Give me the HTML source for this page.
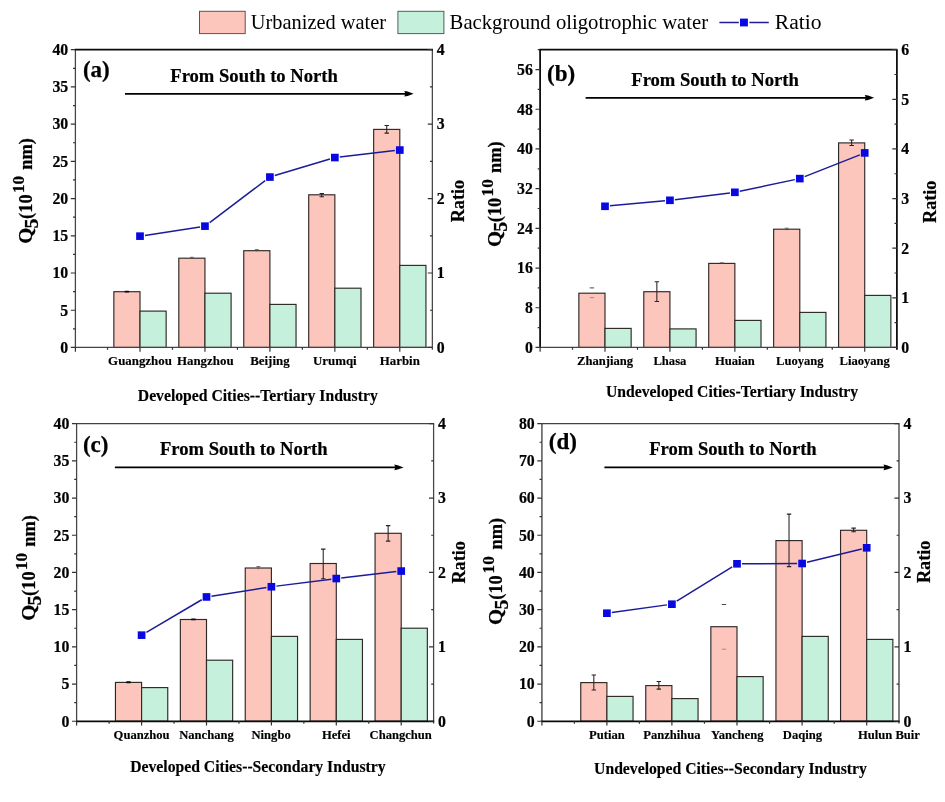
<!DOCTYPE html>
<html><head><meta charset="utf-8"><title>Q5 chart</title>
<style>
html,body{margin:0;padding:0;background:#fff;}
body{width:945px;height:802px;overflow:hidden;font-family:"Liberation Serif",serif;}
svg{display:block;will-change:transform;}
text{font-family:"Liberation Serif",serif;fill:#000;}
.tk{font-size:15.8px;font-weight:bold;stroke:#000;stroke-width:0.2px;}
.cat{font-weight:bold;stroke:#000;stroke-width:0.15px;}
.ttl{font-size:18.6px;font-weight:bold;stroke:#000;stroke-width:0.2px;}
.tag{font-size:23px;font-weight:bold;stroke:#000;stroke-width:0.25px;}
.xt{font-size:15.7px;font-weight:bold;stroke:#000;stroke-width:0.15px;}
.yl{font-size:18.4px;font-weight:bold;stroke:#000;stroke-width:0.25px;}
.ss{font-size:17.6px;}
.rl{font-size:18.2px;font-weight:bold;stroke:#000;stroke-width:0.2px;}
.lg{font-size:20.5px;}
</style></head>
<body>
<svg width="945" height="802" viewBox="0 0 945 802">
<rect width="945" height="802" fill="#fff"/>
<g id="legend">
<rect x="199.5" y="11.3" width="45.7" height="22.3" fill="#fdc6bd" stroke="#66504e" stroke-width="1"/>
<text x="250.8" y="29.3" class="lg" style="font-size:20.4px">Urbanized water</text>
<rect x="397.9" y="11.3" width="46" height="22.3" fill="#c4f0dc" stroke="#4e6258" stroke-width="1"/>
<text x="449.6" y="29.3" class="lg" style="font-size:20.7px">Background oligotrophic water</text>
<path d="M719.4 22.5H738.8M749.4 22.5H768.8" stroke="#1c1c9a" stroke-width="1.35"/>
<rect x="740" y="18.6" width="7.9" height="7.8" fill="#0808e2"/>
<text x="774.8" y="29.3" class="lg" style="font-size:21.6px">Ratio</text>
</g>
<g id="panel-a">
<rect x="113.85" y="291.7" width="26.15" height="55.75" fill="#fdc6bd" stroke="#2e2826" stroke-width="1.15"/>
<rect x="140" y="311.1" width="26.15" height="36.35" fill="#c4f0dc" stroke="#2e2826" stroke-width="1.15"/>
<rect x="178.8" y="258.2" width="26.15" height="89.25" fill="#fdc6bd" stroke="#2e2826" stroke-width="1.15"/>
<rect x="204.95" y="293.2" width="26.15" height="54.25" fill="#c4f0dc" stroke="#2e2826" stroke-width="1.15"/>
<rect x="243.75" y="250.7" width="26.15" height="96.75" fill="#fdc6bd" stroke="#2e2826" stroke-width="1.15"/>
<rect x="269.9" y="304.4" width="26.15" height="43.05" fill="#c4f0dc" stroke="#2e2826" stroke-width="1.15"/>
<rect x="308.7" y="194.8" width="26.15" height="152.65" fill="#fdc6bd" stroke="#2e2826" stroke-width="1.15"/>
<rect x="334.85" y="288.2" width="26.15" height="59.25" fill="#c4f0dc" stroke="#2e2826" stroke-width="1.15"/>
<rect x="373.65" y="129.4" width="26.15" height="218.05" fill="#fdc6bd" stroke="#2e2826" stroke-width="1.15"/>
<rect x="399.8" y="265.4" width="26.15" height="82.05" fill="#c4f0dc" stroke="#2e2826" stroke-width="1.15"/>
<path d="M125.42 291.6H128.43" stroke="#0a0a0a" stroke-width="1.9" stroke-linecap="round"/>
<path d="M191.88 257.3V259M189.88 257.3H193.88" stroke="#5a4a4a" stroke-width="0.8" fill="none"/>
<path d="M256.82 249.6V251.4M254.82 249.6H258.82" stroke="#5a4a4a" stroke-width="0.8" fill="none"/>
<path d="M321.78 193.4V196.8M319.58 193.4H323.98M319.58 196.8H323.98" stroke="#2a2020" stroke-width="1.05" fill="none"/>
<path d="M386.73 125.4V133.1M384.53 125.4H388.93M384.53 133.1H388.93" stroke="#2a2020" stroke-width="1.05" fill="none"/>
<path d="M75.4 49.7V347.45" stroke="#444" stroke-width="1.25"/>
<path d="M432.35 49.7V349.65" stroke="#444" stroke-width="1.25"/>
<path d="M74.8 347.45H432.95" stroke="#444" stroke-width="1.25"/>
<path d="M74.8 49.7H432.95" stroke="#0a0a0a" stroke-width="1.75"/>
<text x="68.2" y="352.75" text-anchor="end" class="tk">0</text>
<text x="68.2" y="315.53" text-anchor="end" class="tk">5</text>
<text x="68.2" y="278.31" text-anchor="end" class="tk">10</text>
<text x="68.2" y="241.09" text-anchor="end" class="tk">15</text>
<text x="68.2" y="203.88" text-anchor="end" class="tk">20</text>
<text x="68.2" y="166.66" text-anchor="end" class="tk">25</text>
<text x="68.2" y="129.44" text-anchor="end" class="tk">30</text>
<text x="68.2" y="92.22" text-anchor="end" class="tk">35</text>
<text x="68.2" y="55" text-anchor="end" class="tk">40</text>
<text x="436.75" y="352.75" class="tk">0</text>
<text x="436.75" y="278.31" class="tk">1</text>
<text x="436.75" y="203.88" class="tk">2</text>
<text x="436.75" y="129.44" class="tk">3</text>
<text x="436.75" y="55" class="tk">4</text>
<path d="M70.8 347.45H75.4M73 328.84H75.4M70.8 310.23H75.4M73 291.62H75.4M70.8 273.01H75.4M73 254.4H75.4M70.8 235.79H75.4M73 217.18H75.4M70.8 198.57H75.4M73 179.97H75.4M70.8 161.36H75.4M73 142.75H75.4M70.8 124.14H75.4M73 105.53H75.4M70.8 86.92H75.4M73 68.31H75.4M70.8 49.7H75.4M427.75 347.45H432.35M429.95 310.23H432.35M427.75 273.01H432.35M429.95 235.79H432.35M427.75 198.57H432.35M429.95 161.36H432.35M427.75 124.14H432.35M429.95 86.92H432.35M427.75 49.7H432.35M75.4 347.45V351.65M140 347.45V351.65M107.53 347.45V349.85M204.95 347.45V351.65M172.47 347.45V349.85M269.9 347.45V351.65M237.42 347.45V349.85M334.85 347.45V351.65M302.38 347.45V349.85M399.8 347.45V351.65M367.32 347.45V349.85" stroke="#333" stroke-width="1.2" fill="none"/>
<text x="140" y="364.95" text-anchor="middle" class="cat" style="font-size:12.9px">Guangzhou</text>
<text x="205.25" y="364.95" text-anchor="middle" class="cat" style="font-size:12.9px">Hangzhou</text>
<text x="269.9" y="364.95" text-anchor="middle" class="cat" style="font-size:12.9px">Beijing</text>
<text x="334.85" y="364.95" text-anchor="middle" class="cat" style="font-size:12.9px">Urumqi</text>
<text x="399.8" y="364.95" text-anchor="middle" class="cat" style="font-size:12.9px">Harbin</text>
<path d="M144.94 235.39L200.01 226.91M209.68 222.58L265.17 180.62M274.8 175.58L329.95 159.02M339.79 156.98L394.86 150.62" fill="none" stroke="#1c1c9a" stroke-width="1.5"/>
<rect x="136.15" y="232.35" width="7.7" height="7.6" fill="#0808e2"/>
<rect x="201.1" y="222.35" width="7.7" height="7.6" fill="#0808e2"/>
<rect x="266.05" y="173.25" width="7.7" height="7.6" fill="#0808e2"/>
<rect x="331" y="153.75" width="7.7" height="7.6" fill="#0808e2"/>
<rect x="395.95" y="146.25" width="7.7" height="7.6" fill="#0808e2"/>
<path d="M125 93.8H407.6" stroke="#000" stroke-width="1.8"/>
<path d="M413.6 93.8L407.6 91.6L404.3 91L405.3 93.8L404.3 96.6L407.6 96Z" fill="#000"/>
<text x="170.3" y="81.7" class="ttl">From South to North</text>
<text x="82.9" y="77.3" class="tag">(a)</text>
<text x="137.8" y="401" class="xt">Developed Cities--Tertiary Industry</text>
<g transform="translate(32.2 243.7) rotate(-90)" class="yl">
<text transform="translate(0 0) scale(1.12 1)" style="font-size:18.4px">Q</text>
<text transform="translate(15.3 5.8) scale(1.12 1)" style="font-size:17.8px">5</text>
<text transform="translate(24.8 0) scale(1.0 1)" style="font-size:18.4px">(10</text>
<text transform="translate(50.6 -8) scale(0.97 1)" style="font-size:17.6px">10</text>
<text transform="translate(74 0) scale(1.0 1)" style="font-size:18.4px">nm)</text>
</g>
<text transform="translate(464.2 222.3) rotate(-90)" class="rl">Ratio</text>
</g>
<g id="panel-b">
<rect x="578.85" y="293.2" width="26.15" height="54.25" fill="#fdc6bd" stroke="#2e2826" stroke-width="1.15"/>
<rect x="605" y="328.4" width="26.15" height="19.05" fill="#c4f0dc" stroke="#2e2826" stroke-width="1.15"/>
<rect x="643.78" y="291.7" width="26.15" height="55.75" fill="#fdc6bd" stroke="#2e2826" stroke-width="1.15"/>
<rect x="669.93" y="328.9" width="26.15" height="18.55" fill="#c4f0dc" stroke="#2e2826" stroke-width="1.15"/>
<rect x="708.71" y="263.4" width="26.15" height="84.05" fill="#fdc6bd" stroke="#2e2826" stroke-width="1.15"/>
<rect x="734.86" y="320.4" width="26.15" height="27.05" fill="#c4f0dc" stroke="#2e2826" stroke-width="1.15"/>
<rect x="773.64" y="229.2" width="26.15" height="118.25" fill="#fdc6bd" stroke="#2e2826" stroke-width="1.15"/>
<rect x="799.79" y="312.4" width="26.15" height="35.05" fill="#c4f0dc" stroke="#2e2826" stroke-width="1.15"/>
<rect x="838.57" y="142.9" width="26.15" height="204.55" fill="#fdc6bd" stroke="#2e2826" stroke-width="1.15"/>
<rect x="864.72" y="295.4" width="26.15" height="52.05" fill="#c4f0dc" stroke="#2e2826" stroke-width="1.15"/>
<path d="M589.72 287.9H594.12" stroke="#333" stroke-width="0.9"/>
<path d="M589.72 297.6H594.12" stroke="#b57a70" stroke-width="0.9"/>
<path d="M656.86 281.7V301.4M654.65 281.7H659.06M654.65 301.4H659.06" stroke="#2a2020" stroke-width="1.05" fill="none"/>
<path d="M721.78 262.8V264M719.78 262.8H723.78" stroke="#5a4a4a" stroke-width="0.8" fill="none"/>
<path d="M786.71 228.2V230.2M784.71 228.2H788.71" stroke="#5a4a4a" stroke-width="0.8" fill="none"/>
<path d="M851.64 139.9V145.4M849.44 139.9H853.85M849.44 145.4H853.85" stroke="#2a2020" stroke-width="1.05" fill="none"/>
<path d="M540.1 49.7V347.45" stroke="#0a0a0a" stroke-width="1.75"/>
<path d="M896.9 49.7V349.65" stroke="#0a0a0a" stroke-width="1.75"/>
<path d="M539.5 347.45H897.5" stroke="#444" stroke-width="1.25"/>
<path d="M539.5 49.7H897.5" stroke="#0a0a0a" stroke-width="1.75"/>
<text x="532.9" y="352.75" text-anchor="end" class="tk">0</text>
<text x="532.9" y="313.05" text-anchor="end" class="tk">8</text>
<text x="532.9" y="273.35" text-anchor="end" class="tk">16</text>
<text x="532.9" y="233.65" text-anchor="end" class="tk">24</text>
<text x="532.9" y="193.95" text-anchor="end" class="tk">32</text>
<text x="532.9" y="154.25" text-anchor="end" class="tk">40</text>
<text x="532.9" y="114.55" text-anchor="end" class="tk">48</text>
<text x="532.9" y="74.85" text-anchor="end" class="tk">56</text>
<text x="901.3" y="352.75" class="tk">0</text>
<text x="901.3" y="303.12" class="tk">1</text>
<text x="901.3" y="253.5" class="tk">2</text>
<text x="901.3" y="203.88" class="tk">3</text>
<text x="901.3" y="154.25" class="tk">4</text>
<text x="901.3" y="104.62" class="tk">5</text>
<text x="901.3" y="55" class="tk">6</text>
<path d="M535.5 347.45H540.1M537.7 327.6H540.1M535.5 307.75H540.1M537.7 287.9H540.1M535.5 268.05H540.1M537.7 248.2H540.1M535.5 228.35H540.1M537.7 208.5H540.1M535.5 188.65H540.1M537.7 168.8H540.1M535.5 148.95H540.1M537.7 129.1H540.1M535.5 109.25H540.1M537.7 89.4H540.1M535.5 69.55H540.1M537.7 49.7H540.1M892.3 347.45H896.9M894.5 322.64H896.9M892.3 297.82H896.9M894.5 273.01H896.9M892.3 248.2H896.9M894.5 223.39H896.9M892.3 198.57H896.9M894.5 173.76H896.9M892.3 148.95H896.9M894.5 124.14H896.9M892.3 99.32H896.9M894.5 74.51H896.9M892.3 49.7H896.9M540.1 347.45V351.65M605 347.45V351.65M572.53 347.45V349.85M669.93 347.45V351.65M637.47 347.45V349.85M734.86 347.45V351.65M702.39 347.45V349.85M799.79 347.45V351.65M767.32 347.45V349.85M864.72 347.45V351.65M832.25 347.45V349.85" stroke="#333" stroke-width="1.2" fill="none"/>
<text x="605" y="364.95" text-anchor="middle" class="cat" style="font-size:12.6px">Zhanjiang</text>
<text x="669.93" y="364.95" text-anchor="middle" class="cat" style="font-size:12.6px">Lhasa</text>
<text x="734.86" y="364.95" text-anchor="middle" class="cat" style="font-size:12.6px">Huaian</text>
<text x="799.79" y="364.95" text-anchor="middle" class="cat" style="font-size:12.6px">Luoyang</text>
<text x="864.72" y="364.95" text-anchor="middle" class="cat" style="font-size:12.6px">Liaoyang</text>
<path d="M609.95 205.84L664.98 200.76M674.87 199.69L729.92 192.91M739.79 191.26L794.86 179.64M804.66 176.67L859.85 154.83" fill="none" stroke="#1c1c9a" stroke-width="1.5"/>
<rect x="601.15" y="202.5" width="7.7" height="7.6" fill="#0808e2"/>
<rect x="666.08" y="196.5" width="7.7" height="7.6" fill="#0808e2"/>
<rect x="731.01" y="188.5" width="7.7" height="7.6" fill="#0808e2"/>
<rect x="795.94" y="174.8" width="7.7" height="7.6" fill="#0808e2"/>
<rect x="860.87" y="149.1" width="7.7" height="7.6" fill="#0808e2"/>
<path d="M585.6 97.8H868.1" stroke="#000" stroke-width="1.8"/>
<path d="M874.1 97.8L868.1 95.6L864.8 95L865.8 97.8L864.8 100.6L868.1 100Z" fill="#000"/>
<text x="631.3" y="85.8" class="ttl">From South to North</text>
<text x="547" y="81" class="tag">(b)</text>
<text x="606" y="396.8" class="xt">Undeveloped Cities-Tertiary Industry</text>
<g transform="translate(501.4 247) rotate(-90)" class="yl">
<text transform="translate(0 0) scale(1.12 1)" style="font-size:18.4px">Q</text>
<text transform="translate(15.3 5.8) scale(1.12 1)" style="font-size:17.8px">5</text>
<text transform="translate(24.8 0) scale(1.0 1)" style="font-size:18.4px">(10</text>
<text transform="translate(50.6 -8) scale(0.97 1)" style="font-size:17.6px">10</text>
<text transform="translate(74 0) scale(1.0 1)" style="font-size:18.4px">nm)</text>
</g>
<text transform="translate(935.8 223) rotate(-90)" class="rl">Ratio</text>
</g>
<g id="panel-c">
<rect x="115.45" y="682.4" width="26.15" height="38.85" fill="#fdc6bd" stroke="#2e2826" stroke-width="1.15"/>
<rect x="141.6" y="687.6" width="26.15" height="33.65" fill="#c4f0dc" stroke="#2e2826" stroke-width="1.15"/>
<rect x="180.35" y="619.5" width="26.15" height="101.75" fill="#fdc6bd" stroke="#2e2826" stroke-width="1.15"/>
<rect x="206.5" y="660.2" width="26.15" height="61.05" fill="#c4f0dc" stroke="#2e2826" stroke-width="1.15"/>
<rect x="245.25" y="568" width="26.15" height="153.25" fill="#fdc6bd" stroke="#2e2826" stroke-width="1.15"/>
<rect x="271.4" y="636.4" width="26.15" height="84.85" fill="#c4f0dc" stroke="#2e2826" stroke-width="1.15"/>
<rect x="310.15" y="563.5" width="26.15" height="157.75" fill="#fdc6bd" stroke="#2e2826" stroke-width="1.15"/>
<rect x="336.3" y="639.4" width="26.15" height="81.85" fill="#c4f0dc" stroke="#2e2826" stroke-width="1.15"/>
<rect x="375.05" y="533.3" width="26.15" height="187.95" fill="#fdc6bd" stroke="#2e2826" stroke-width="1.15"/>
<rect x="401.2" y="628.2" width="26.15" height="93.05" fill="#c4f0dc" stroke="#2e2826" stroke-width="1.15"/>
<path d="M127.03 682.3H130.03" stroke="#0a0a0a" stroke-width="1.9" stroke-linecap="round"/>
<path d="M191.93 619.4H194.93" stroke="#0a0a0a" stroke-width="1.9" stroke-linecap="round"/>
<path d="M258.32 566.6V569.2M256.32 566.6H260.32" stroke="#5a4a4a" stroke-width="0.8" fill="none"/>
<path d="M323.23 549.1V578.8M321.03 549.1H325.43M321.03 578.8H325.43" stroke="#2a2020" stroke-width="1.05" fill="none"/>
<path d="M388.13 525.6V541.1M385.93 525.6H390.33M385.93 541.1H390.33" stroke="#2a2020" stroke-width="1.05" fill="none"/>
<path d="M76.6 423.65V721.25" stroke="#444" stroke-width="1.25"/>
<path d="M433.6 423.65V723.45" stroke="#444" stroke-width="1.25"/>
<path d="M76 721.25H434.2" stroke="#0a0a0a" stroke-width="1.75"/>
<path d="M76 423.65H434.2" stroke="#444" stroke-width="1.25"/>
<text x="69.4" y="726.55" text-anchor="end" class="tk">0</text>
<text x="69.4" y="689.35" text-anchor="end" class="tk">5</text>
<text x="69.4" y="652.15" text-anchor="end" class="tk">10</text>
<text x="69.4" y="614.95" text-anchor="end" class="tk">15</text>
<text x="69.4" y="577.75" text-anchor="end" class="tk">20</text>
<text x="69.4" y="540.55" text-anchor="end" class="tk">25</text>
<text x="69.4" y="503.35" text-anchor="end" class="tk">30</text>
<text x="69.4" y="466.15" text-anchor="end" class="tk">35</text>
<text x="69.4" y="428.95" text-anchor="end" class="tk">40</text>
<text x="438" y="726.55" class="tk">0</text>
<text x="438" y="652.15" class="tk">1</text>
<text x="438" y="577.75" class="tk">2</text>
<text x="438" y="503.35" class="tk">3</text>
<text x="438" y="428.95" class="tk">4</text>
<path d="M72 721.25H76.6M74.2 702.65H76.6M72 684.05H76.6M74.2 665.45H76.6M72 646.85H76.6M74.2 628.25H76.6M72 609.65H76.6M74.2 591.05H76.6M72 572.45H76.6M74.2 553.85H76.6M72 535.25H76.6M74.2 516.65H76.6M72 498.05H76.6M74.2 479.45H76.6M72 460.85H76.6M74.2 442.25H76.6M72 423.65H76.6M429 721.25H433.6M431.2 684.05H433.6M429 646.85H433.6M431.2 609.65H433.6M429 572.45H433.6M431.2 535.25H433.6M429 498.05H433.6M431.2 460.85H433.6M429 423.65H433.6M76.6 721.25V725.45M141.6 721.25V725.45M109.15 721.25V723.65M206.5 721.25V725.45M174.05 721.25V723.65M271.4 721.25V725.45M238.95 721.25V723.65M336.3 721.25V725.45M303.85 721.25V723.65M401.2 721.25V725.45M368.75 721.25V723.65" stroke="#333" stroke-width="1.2" fill="none"/>
<text x="141.6" y="738.75" text-anchor="middle" class="cat" style="font-size:12.6px">Quanzhou</text>
<text x="206.5" y="738.75" text-anchor="middle" class="cat" style="font-size:12.6px">Nanchang</text>
<text x="271.1" y="738.75" text-anchor="middle" class="cat" style="font-size:12.6px">Ningbo</text>
<text x="336.3" y="738.75" text-anchor="middle" class="cat" style="font-size:12.6px">Hefei</text>
<text x="400.7" y="738.75" text-anchor="middle" class="cat" style="font-size:12.6px">Changchun</text>
<path d="M146.4 632.33L201.7 599.77M211.44 596.17L266.46 587.53M276.34 586.13L331.36 579.17M341.24 577.98L396.26 571.62" fill="none" stroke="#1c1c9a" stroke-width="1.5"/>
<rect x="137.75" y="631.35" width="7.7" height="7.6" fill="#0808e2"/>
<rect x="202.65" y="593.15" width="7.7" height="7.6" fill="#0808e2"/>
<rect x="267.55" y="582.95" width="7.7" height="7.6" fill="#0808e2"/>
<rect x="332.45" y="574.75" width="7.7" height="7.6" fill="#0808e2"/>
<rect x="397.35" y="567.25" width="7.7" height="7.6" fill="#0808e2"/>
<path d="M114.9 467.4H397.6" stroke="#000" stroke-width="1.8"/>
<path d="M403.6 467.4L397.6 465.2L394.3 464.6L395.3 467.4L394.3 470.2L397.6 469.6Z" fill="#000"/>
<text x="160" y="455" class="ttl">From South to North</text>
<text x="82.9" y="451.8" class="tag">(c)</text>
<text x="130.2" y="772.4" class="xt">Developed Cities--Secondary Industry</text>
<g transform="translate(35.2 620.7) rotate(-90)" class="yl">
<text transform="translate(0 0) scale(1.12 1)" style="font-size:18.4px">Q</text>
<text transform="translate(15.3 5.8) scale(1.12 1)" style="font-size:17.8px">5</text>
<text transform="translate(24.8 0) scale(1.0 1)" style="font-size:18.4px">(10</text>
<text transform="translate(50.6 -8) scale(0.97 1)" style="font-size:17.6px">10</text>
<text transform="translate(74 0) scale(1.0 1)" style="font-size:18.4px">nm)</text>
</g>
<text transform="translate(464.8 583.6) rotate(-90)" class="rl">Ratio</text>
</g>
<g id="panel-d">
<rect x="580.75" y="682.6" width="26.15" height="38.65" fill="#fdc6bd" stroke="#2e2826" stroke-width="1.15"/>
<rect x="606.9" y="696.4" width="26.15" height="24.85" fill="#c4f0dc" stroke="#2e2826" stroke-width="1.15"/>
<rect x="645.75" y="685.6" width="26.15" height="35.65" fill="#fdc6bd" stroke="#2e2826" stroke-width="1.15"/>
<rect x="671.9" y="698.6" width="26.15" height="22.65" fill="#c4f0dc" stroke="#2e2826" stroke-width="1.15"/>
<rect x="710.85" y="626.7" width="26.15" height="94.55" fill="#fdc6bd" stroke="#2e2826" stroke-width="1.15"/>
<rect x="737" y="676.6" width="26.15" height="44.65" fill="#c4f0dc" stroke="#2e2826" stroke-width="1.15"/>
<rect x="775.95" y="540.6" width="26.15" height="180.65" fill="#fdc6bd" stroke="#2e2826" stroke-width="1.15"/>
<rect x="802.1" y="636.4" width="26.15" height="84.85" fill="#c4f0dc" stroke="#2e2826" stroke-width="1.15"/>
<rect x="840.55" y="530.3" width="26.15" height="190.95" fill="#fdc6bd" stroke="#2e2826" stroke-width="1.15"/>
<rect x="866.7" y="639.4" width="26.15" height="81.85" fill="#c4f0dc" stroke="#2e2826" stroke-width="1.15"/>
<path d="M593.82 674.9V689.9M591.62 674.9H596.02M591.62 689.9H596.02" stroke="#2a2020" stroke-width="1.05" fill="none"/>
<path d="M658.82 681.4V689.1M656.62 681.4H661.02M656.62 689.1H661.02" stroke="#2a2020" stroke-width="1.05" fill="none"/>
<path d="M721.72 604.5H726.12" stroke="#333" stroke-width="0.9"/>
<path d="M721.72 649.2H726.12" stroke="#b57a70" stroke-width="0.9"/>
<path d="M789.02 514.1V566.6M786.82 514.1H791.23M786.82 566.6H791.23" stroke="#2a2020" stroke-width="1.05" fill="none"/>
<path d="M853.62 528.1V531.8M851.42 528.1H855.83M851.42 531.8H855.83" stroke="#2a2020" stroke-width="1.05" fill="none"/>
<path d="M541.9 423.65V721.25" stroke="#5a5a5a" stroke-width="1.55"/>
<path d="M899 423.65V723.45" stroke="#5a5a5a" stroke-width="1.55"/>
<path d="M541.3 721.25H899.6" stroke="#0a0a0a" stroke-width="1.75"/>
<path d="M541.3 423.65H899.6" stroke="#444" stroke-width="1.25"/>
<text x="534.7" y="726.55" text-anchor="end" class="tk">0</text>
<text x="534.7" y="689.35" text-anchor="end" class="tk">10</text>
<text x="534.7" y="652.15" text-anchor="end" class="tk">20</text>
<text x="534.7" y="614.95" text-anchor="end" class="tk">30</text>
<text x="534.7" y="577.75" text-anchor="end" class="tk">40</text>
<text x="534.7" y="540.55" text-anchor="end" class="tk">50</text>
<text x="534.7" y="503.35" text-anchor="end" class="tk">60</text>
<text x="534.7" y="466.15" text-anchor="end" class="tk">70</text>
<text x="534.7" y="428.95" text-anchor="end" class="tk">80</text>
<text x="903.4" y="726.55" class="tk">0</text>
<text x="903.4" y="652.15" class="tk">1</text>
<text x="903.4" y="577.75" class="tk">2</text>
<text x="903.4" y="503.35" class="tk">3</text>
<text x="903.4" y="428.95" class="tk">4</text>
<path d="M537.3 721.25H541.9M539.5 702.65H541.9M537.3 684.05H541.9M539.5 665.45H541.9M537.3 646.85H541.9M539.5 628.25H541.9M537.3 609.65H541.9M539.5 591.05H541.9M537.3 572.45H541.9M539.5 553.85H541.9M537.3 535.25H541.9M539.5 516.65H541.9M537.3 498.05H541.9M539.5 479.45H541.9M537.3 460.85H541.9M539.5 442.25H541.9M537.3 423.65H541.9M894.4 721.25H899M896.6 684.05H899M894.4 646.85H899M896.6 609.65H899M894.4 572.45H899M896.6 535.25H899M894.4 498.05H899M896.6 460.85H899M894.4 423.65H899M541.9 721.25V725.45M606.9 721.25V725.45M574.38 721.25V723.65M671.9 721.25V725.45M639.38 721.25V723.65M737 721.25V725.45M704.48 721.25V723.65M802.1 721.25V725.45M769.58 721.25V723.65M866.7 721.25V725.45M834.18 721.25V723.65" stroke="#333" stroke-width="1.2" fill="none"/>
<text x="606.9" y="738.75" text-anchor="middle" class="cat" style="font-size:12.6px">Putian</text>
<text x="671.9" y="738.75" text-anchor="middle" class="cat" style="font-size:12.6px">Panzhihua</text>
<text x="737.2" y="738.75" text-anchor="middle" class="cat" style="font-size:12.6px">Yancheng</text>
<text x="802.4" y="738.75" text-anchor="middle" class="cat" style="font-size:12.6px">Daqing</text>
<text x="888.9" y="738.75" text-anchor="middle" class="cat" style="font-size:12.6px">Hulun Buir</text>
<path d="M611.84 612.52L666.96 604.88M676.68 601.23L732.22 566.77M741.95 563.78L797.15 563.52M807.02 562.3L861.78 549" fill="none" stroke="#1c1c9a" stroke-width="1.5"/>
<rect x="603.05" y="609.4" width="7.7" height="7.6" fill="#0808e2"/>
<rect x="668.05" y="600.4" width="7.7" height="7.6" fill="#0808e2"/>
<rect x="733.15" y="560" width="7.7" height="7.6" fill="#0808e2"/>
<rect x="798.25" y="559.7" width="7.7" height="7.6" fill="#0808e2"/>
<rect x="862.85" y="544" width="7.7" height="7.6" fill="#0808e2"/>
<path d="M604.4 467.4H886.8" stroke="#000" stroke-width="1.8"/>
<path d="M892.8 467.4L886.8 465.2L883.5 464.6L884.5 467.4L883.5 470.2L886.8 469.6Z" fill="#000"/>
<text x="649.2" y="455" class="ttl">From South to North</text>
<text x="548.8" y="448.5" class="tag">(d)</text>
<text x="594.1" y="774.4" class="xt">Undeveloped Cities--Secondary Industry</text>
<g transform="translate(501.8 625) rotate(-90)" class="yl">
<text transform="translate(0 0) scale(1.12 1)" style="font-size:18.4px">Q</text>
<text transform="translate(15.61 5.8) scale(1.12 1)" style="font-size:17.8px">5</text>
<text transform="translate(25.3 0) scale(1.0 1)" style="font-size:18.4px">(10</text>
<text transform="translate(51.61 -8) scale(0.97 1)" style="font-size:17.6px">10</text>
<text transform="translate(75.48 0) scale(1.0 1)" style="font-size:18.4px">nm)</text>
</g>
<text transform="translate(930.2 583.1) rotate(-90)" class="rl">Ratio</text>
</g>
</svg>
</body></html>
